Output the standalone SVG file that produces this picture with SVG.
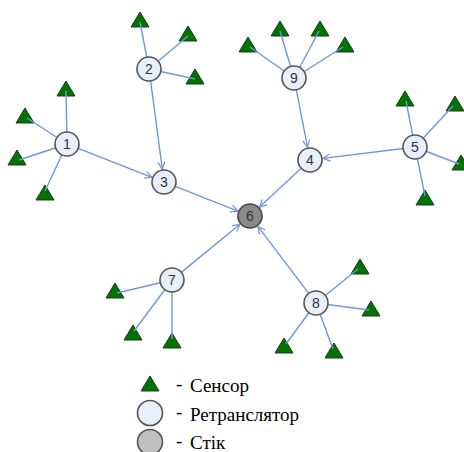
<svg xmlns="http://www.w3.org/2000/svg" width="464" height="452" viewBox="0 0 464 452">
  <style>
    .link { stroke: #6f98d8; stroke-width: 1.4; fill: none; }
    .arrow { stroke: #6f98d8; stroke-width: 1.4; fill: none; marker-end: url(#vhead); }
    .relay circle { fill: #e9eff9; stroke: #555; stroke-width: 1.6; }
    .sink circle { fill: #8a8a8a; stroke: #444; stroke-width: 1.6; }
    .num { font-family: "Liberation Sans", Arial, sans-serif; font-size: 14px; fill: #333; text-anchor: middle; }
    .sensor polygon, .tri { fill: #007300; stroke: #1c3a1c; stroke-width: 1; }
    .legend-text { font-family: "Liberation Serif", "Times New Roman", serif; font-size: 19px; fill: #000; }
  </style>
  <defs>
    <marker id="vhead" viewBox="0 0 10 10" refX="9" refY="5" markerWidth="9" markerHeight="9" markerUnits="userSpaceOnUse" orient="auto">
      <path d="M1,1 L9,5 L1,9" fill="none" stroke="#6f98d8" stroke-width="1.4"/>
    </marker>
    <polygon id="tri" points="0,-8 9,7 -9,7"/>
  </defs>

  <!-- sensors -->
  <g id="sensors" class="sensor">
    <g id="s2a"><use href="#tri" x="140" y="20" class="tri"/></g>
    <g id="s2b"><use href="#tri" x="188" y="34" class="tri"/></g>
    <g id="s2c"><use href="#tri" x="195" y="77" class="tri"/></g>
    <g id="s1a"><use href="#tri" x="66" y="89" class="tri"/></g>
    <g id="s1b"><use href="#tri" x="25" y="116" class="tri"/></g>
    <g id="s1c"><use href="#tri" x="17" y="158" class="tri"/></g>
    <g id="s1d"><use href="#tri" x="45" y="193" class="tri"/></g>
    <g id="s9a"><use href="#tri" x="248" y="45" class="tri"/></g>
    <g id="s9b"><use href="#tri" x="280" y="29" class="tri"/></g>
    <g id="s9c"><use href="#tri" x="320" y="29" class="tri"/></g>
    <g id="s9d"><use href="#tri" x="345" y="45" class="tri"/></g>
    <g id="s5a"><use href="#tri" x="405" y="99" class="tri"/></g>
    <g id="s5b"><use href="#tri" x="455" y="104" class="tri"/></g>
    <g id="s5c"><use href="#tri" x="461" y="163" class="tri"/></g>
    <g id="s5d"><use href="#tri" x="425" y="198" class="tri"/></g>
    <g id="s7a"><use href="#tri" x="115" y="291" class="tri"/></g>
    <g id="s7b"><use href="#tri" x="133" y="333" class="tri"/></g>
    <g id="s7c"><use href="#tri" x="172" y="341" class="tri"/></g>
    <g id="s8a"><use href="#tri" x="360" y="267" class="tri"/></g>
    <g id="s8b"><use href="#tri" x="371" y="309" class="tri"/></g>
    <g id="s8c"><use href="#tri" x="284" y="346" class="tri"/></g>
    <g id="s8d"><use href="#tri" x="334" y="351" class="tri"/></g>
  </g>

  <!-- connectors -->
  <g id="connectors">
    <!-- sensor links -->
    <line class="link" x1="140" y1="22" x2="149" y2="69"/>
    <line class="link" x1="188" y1="36" x2="149" y2="69"/>
    <line class="link" x1="195" y1="79" x2="149" y2="69"/>
    <line class="link" x1="66" y1="91" x2="67" y2="144"/>
    <line class="link" x1="27" y1="118" x2="67" y2="144"/>
    <line class="link" x1="19" y1="160" x2="67" y2="144"/>
    <line class="link" x1="45" y1="191" x2="67" y2="144"/>
    <line class="link" x1="250" y1="47" x2="294" y2="78"/>
    <line class="link" x1="280" y1="31" x2="294" y2="78"/>
    <line class="link" x1="319" y1="31" x2="294" y2="78"/>
    <line class="link" x1="343" y1="47" x2="294" y2="78"/>
    <line class="link" x1="406" y1="101" x2="415" y2="147"/>
    <line class="link" x1="453" y1="106" x2="415" y2="147"/>
    <line class="link" x1="459" y1="164" x2="415" y2="147"/>
    <line class="link" x1="425" y1="196" x2="415" y2="147"/>
    <line class="link" x1="117" y1="293" x2="172" y2="280"/>
    <line class="link" x1="134" y1="331" x2="172" y2="280"/>
    <line class="link" x1="172" y1="339" x2="172" y2="280"/>
    <line class="link" x1="358" y1="269" x2="316" y2="303"/>
    <line class="link" x1="369" y1="310" x2="316" y2="303"/>
    <line class="link" x1="286" y1="344" x2="316" y2="303"/>
    <line class="link" x1="333" y1="349" x2="316" y2="303"/>
    <!-- relay links toward the sink -->
    <line class="arrow" x1="78.2" y1="148.4" x2="151.9" y2="177.3"/>
    <line class="arrow" x1="150.6" y1="80.9" x2="162.3" y2="169.1"/>
    <line class="arrow" x1="175.2" y1="186.4" x2="237.9" y2="211.2"/>
    <line class="arrow" x1="296.3" y1="89.8" x2="307.5" y2="147.2"/>
    <line class="arrow" x1="403.1" y1="148.5" x2="322.9" y2="158.4"/>
    <line class="arrow" x1="301.2" y1="168.2" x2="259.5" y2="207.1"/>
    <line class="arrow" x1="181.3" y1="272.4" x2="240" y2="224.2"/>
    <line class="arrow" x1="308.7" y1="293.4" x2="257.9" y2="226.4"/>
  </g>

  <!-- relays -->
  <g id="n1" class="relay"><circle cx="67" cy="144" r="12"/><text class="num" x="67" y="149">1</text></g>
  <g id="n2" class="relay"><circle cx="149" cy="69" r="12"/><text class="num" x="149" y="74">2</text></g>
  <g id="n3" class="relay"><circle cx="164" cy="182" r="12"/><text class="num" x="164" y="187">3</text></g>
  <g id="n4" class="relay"><circle cx="310" cy="160" r="12"/><text class="num" x="310" y="165">4</text></g>
  <g id="n5" class="relay"><circle cx="415" cy="147" r="12"/><text class="num" x="415" y="152">5</text></g>
  <g id="n6" class="sink"><circle cx="250" cy="216" r="12"/><text class="num" x="250" y="221">6</text></g>
  <g id="n7" class="relay"><circle cx="172" cy="280" r="12"/><text class="num" x="172" y="285">7</text></g>
  <g id="n8" class="relay"><circle cx="316" cy="303" r="12"/><text class="num" x="316" y="308">8</text></g>
  <g id="n9" class="relay"><circle cx="294" cy="78" r="12"/><text class="num" x="294" y="83">9</text></g>

  <!-- legend -->
  <g id="legend">
    <use href="#tri" x="150" y="384" class="tri"/>
    <circle cx="150" cy="413" r="12.5" fill="#e9eff9" stroke="#555" stroke-width="1.6"/>
    <circle cx="150" cy="442" r="12.5" fill="#c0c0c0" stroke="#555" stroke-width="1.6"/>
    <text class="legend-text" x="176" y="390">-</text>
    <text class="legend-text" x="176" y="418">-</text>
    <text class="legend-text" x="176" y="447">-</text>
    <text class="legend-text" x="190" y="392">Сенсор</text>
    <text class="legend-text" x="190" y="421">Ретранслятор</text>
    <text class="legend-text" x="190" y="449">Стік</text>
  </g>
</svg>
